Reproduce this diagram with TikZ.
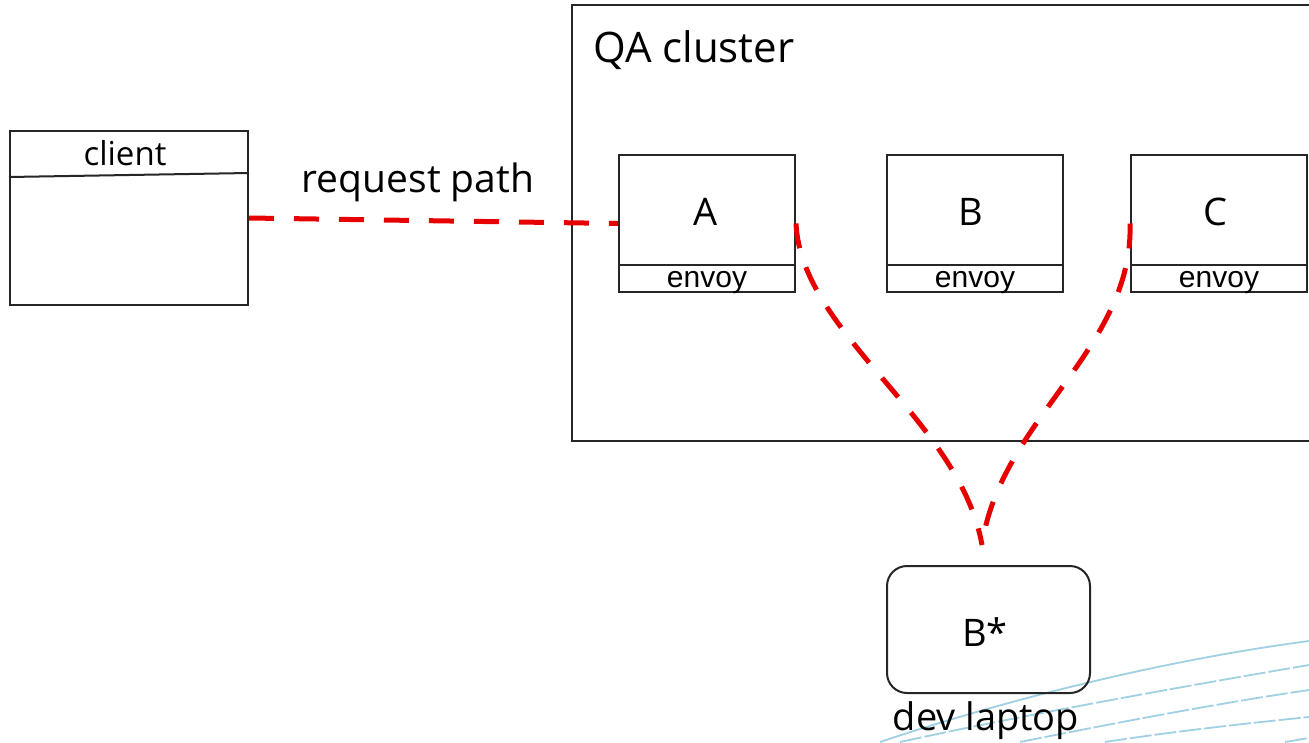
\documentclass[tikz,border=0pt]{standalone}
\usepackage{fontspec}
\setmainfont{Open Sans}
\newfontfamily\arialf{Liberation Sans}
\begin{document}
\begin{tikzpicture}[x=1pt,y=-1pt,
  box/.style={draw=black!85,line width=2pt,rectangle,inner sep=0pt},
  req/.style={draw={rgb,255:red,230;green,0;blue,0},line width=5pt,dash pattern=on 25pt off 20pt},
  sky/.style={draw={rgb,255:red,160;green,208;blue,228},line width=1.8pt},
  skyd/.style={sky,dash pattern=on 22pt off 3pt},
  hand/.style={inner sep=0pt,anchor=base,font=\fontsize{38}{44}\selectfont},
  env/.style={inner sep=0pt,anchor=base,font=\arialf\fontsize{30}{34}\selectfont}]
\useasboundingbox (0,0) rectangle (1309,742);
\clip (0,0) rectangle (1309,742);
\fill[white] (0,0) rectangle (1309,742);

% faint blue lines bottom right
\draw[sky]  (880,742) .. controls (990,705) and (1150,662) .. (1309,641);
\draw[skyd] (900,742) .. controls (1000,720) and (1150,692) .. (1309,665);
\draw[skyd] (1020,742) .. controls (1120,722) and (1220,703) .. (1309,690);
\draw[skyd] (1105,742) .. controls (1170,732) and (1240,724) .. (1309,717);
\draw[skyd] (1285,742) -- (1309,738);

% QA cluster
\node[box,minimum width=760pt,minimum height=436pt] (qa) at (952,223) {};
\node[hand,anchor=base west,font=\fontsize{42}{48}\selectfont] (qal) at (593,62) {QA cluster};

% client
\node[box,minimum width=238pt,minimum height=174pt] (client) at (129,218) {};
\draw[black!85,line width=2pt] ([yshift=-47pt]client.north west) -- ([yshift=-43pt]client.north east);
\node[hand,font=\fontsize{33}{38}\selectfont] (clientl) at (125,165) {client};

% services
\node[box,minimum width=176pt,minimum height=137pt] (A) at (707,223.5) {};
\node[box,minimum width=176pt,minimum height=137pt] (B) at (975,223.5) {};
\node[box,minimum width=176pt,minimum height=137pt] (C) at (1219,223.5) {};
\foreach \n in {A,B,C}{
  \draw[black!85,line width=2pt] ([yshift=28pt]\n.south west) -- ([yshift=28pt]\n.south east);
}
\node[hand] (Al) at (706,225) {A};
\node[hand] (Bl) at (971,225) {B};
\node[hand] (Cl) at (1215,225) {C};
\node[env] (Ae) at (707,287) {envoy};
\node[env] (Be) at (975,287) {envoy};
\node[env] (Ce) at (1219,287) {envoy};

% laptop
\node[box,rounded corners=20pt,minimum width=203pt,minimum height=127pt] (Bs) at (988.5,629.5) {};
\node[hand] (Bsl) at (985,646) {B*};
\node[hand] (dev) at (986,730) {dev laptop};

% request path
\node[hand,font=\fontsize{39}{45}\selectfont] (rp) at (418,192) {request path};
\draw[req] (client.east) -- (A.west);
\coordinate (m) at (982,545);
\draw[req] (A.east) .. controls +(5,110) and +(-22,-125) .. (m);
\draw[req] (C.west) .. controls +(4,125) and +(18,-125) .. (m);
\end{tikzpicture}
\end{document}
